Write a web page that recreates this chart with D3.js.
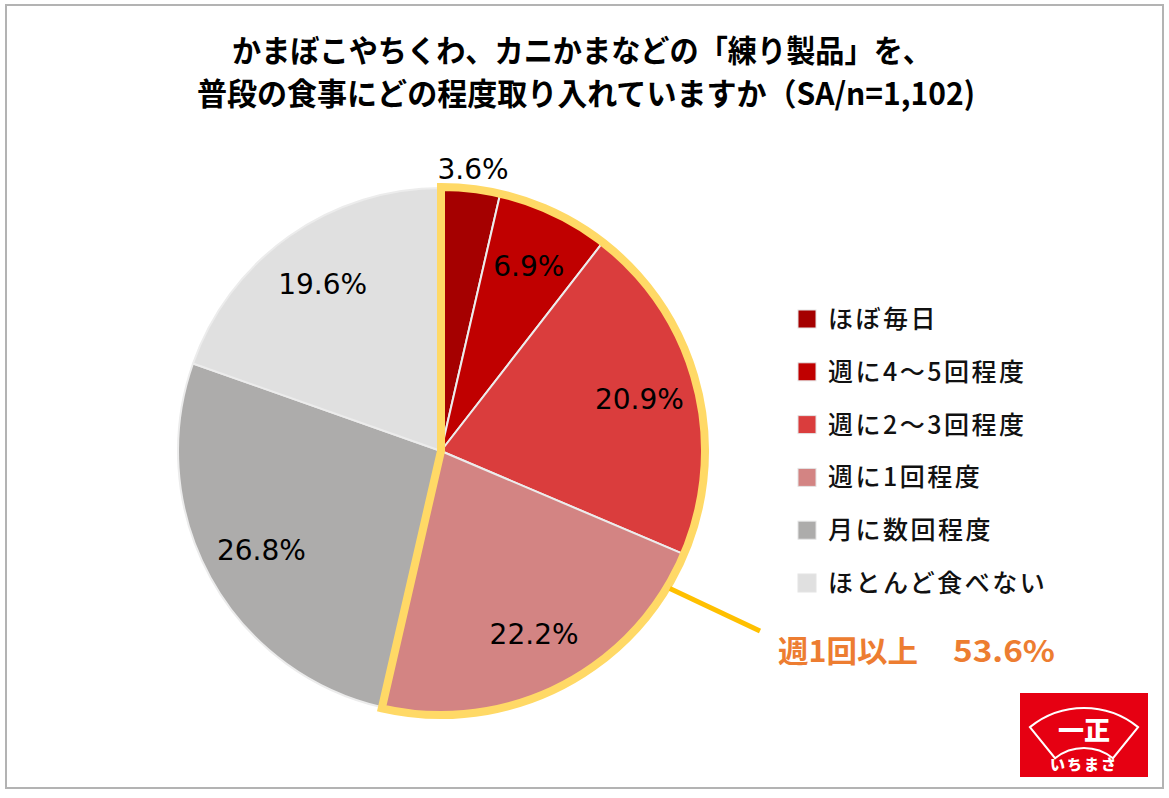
<!DOCTYPE html>
<html lang="ja">
<head>
<meta charset="utf-8">
<script src="https://cdn.jsdelivr.net/npm/d3@7"></script>
<style>
  html, body { margin: 0; padding: 0; background: #fff; }
  svg { display: block; }
</style>
</head>
<body>
<script>
// ---- data ----
const titleLines = ["かまぼこやちくわ、カニかまなどの「練り製品」を、", "普段の食事にどの程度取り入れていますか（SA/n=1,102)"];
const categories = ["ほぼ毎日", "週に4～5回程度", "週に2～3回程度", "週に1回程度", "月に数回程度", "ほとんど食べない"];
const values = [3.6, 6.9, 20.9, 22.2, 26.8, 19.6];
const sliceColors = ["#A50000", "#C00000", "#DA3D3D", "#D38483", "#ADACAB", "#E0E0E0"];
const highlightCount = 4;
const summaryLabel = "週1回以上";
const summaryValue = 53.6;
const logoText = "いちまさ";

// ---- layout ----
const W = 1169, H = 798;
const cx = 441, cy = 451, R = 263;

const svg = d3.select("body").append("svg").attr("width", W).attr("height", H);

// frame
svg.append("rect").attr("x", 6).attr("y", 5).attr("width", 1157).attr("height", 783)
  .attr("fill", "#fff").attr("stroke", "#b3b3b3").attr("stroke-width", 2);

// title
const titleX = [232, 197], titleY = [62, 105], titleLen = [700, 778];
svg.selectAll("text.title").data(titleLines).join("text")
  .attr("class", "title")
  .attr("x", (d, i) => titleX[i]).attr("y", (d, i) => titleY[i])
  .attr("textLength", (d, i) => titleLen[i])
  .attr("lengthAdjust", "spacingAndGlyphs")
  .attr("font-family", "'Noto Sans CJK JP', sans-serif")
  .attr("font-weight", 700).attr("font-size", 31).attr("fill", "#000")
  .text(d => d);

// pie
const pie = d3.pie().sort(null).value(d => d);
const arcs = pie(values);
const arc = d3.arc().innerRadius(0).outerRadius(R);
const g = svg.append("g").attr("transform", `translate(${cx},${cy})`);

g.selectAll("path.slice").data(arcs).join("path")
  .attr("class", "slice")
  .attr("d", arc)
  .attr("fill", (d, i) => sliceColors[i])
  .attr("stroke", "#ececec").attr("stroke-width", 2).attr("stroke-linejoin", "round");

// highlight outline
const hiEnd = arcs[highlightCount - 1].endAngle;
const hiArc = d3.arc().innerRadius(0).outerRadius(R + 1).startAngle(0).endAngle(hiEnd);
g.append("path").attr("d", hiArc())
  .attr("fill", "none").attr("stroke", "#FFD966").attr("stroke-width", 8)
  .attr("stroke-linejoin", "miter");

// labels
const labelArc = d3.arc().innerRadius(205).outerRadius(205);
const outerLabelArc = d3.arc().innerRadius(284).outerRadius(284);
g.selectAll("text.pct").data(arcs).join("text")
  .attr("class", "pct")
  .attr("transform", d => {
    const c = (d.data < 5 ? outerLabelArc : labelArc).centroid(d);
    return `translate(${c[0]},${c[1]})`;
  })
  .attr("text-anchor", "middle").attr("dy", "0.36em")
  .attr("font-family", "'DejaVu Sans', Verdana, sans-serif")
  .attr("font-size", 28).attr("fill", "#000")
  .text(d => d3.format(".1f")(d.data) + "%");

// callout line
const calloutAngle = 121 * Math.PI / 180;
const sx = cx + (R + 4) * Math.sin(calloutAngle), sy = cy - (R + 4) * Math.cos(calloutAngle);
svg.append("line").attr("x1", sx).attr("y1", sy).attr("x2", 760).attr("y2", 631)
  .attr("stroke", "#FFC000").attr("stroke-width", 5);

svg.append("text").attr("x", 778).attr("y", 662)
  .attr("textLength", 140).attr("lengthAdjust", "spacingAndGlyphs")
  .attr("font-family", "'Noto Sans CJK JP', sans-serif").attr("font-weight", 700)
  .attr("font-size", 30).attr("fill", "#ED7D31").text(summaryLabel);
svg.append("text").attr("x", 953).attr("y", 662)
  .attr("textLength", 102).attr("lengthAdjust", "spacingAndGlyphs")
  .attr("font-family", "'Noto Sans CJK JP', sans-serif").attr("font-weight", 700)
  .attr("font-size", 30).attr("fill", "#ED7D31").text(d3.format(".1f")(summaryValue) + "%");

// legend
const ly = d3.scalePoint().domain(categories).range([319, 583]);
const leg = svg.selectAll("g.leg").data(categories).join("g").attr("class", "leg")
  .attr("transform", d => `translate(798,${ly(d)})`);
leg.append("rect").attr("x", 0).attr("y", -9).attr("width", 18).attr("height", 18)
  .attr("fill", (d, i) => sliceColors[i]).attr("stroke", "#e4e4e4").attr("stroke-width", 1);
leg.append("text").attr("x", 30).attr("y", 0).attr("dy", "0.36em")
  .attr("font-family", "'Noto Sans CJK JP', sans-serif").attr("font-weight", 500)
  .attr("font-size", 25).attr("letter-spacing", 2.5).attr("fill", "#111")
  .text(d => d);

// logo
const logo = svg.append("g");
logo.append("rect").attr("x", 1020).attr("y", 693).attr("width", 128).attr("height", 84).attr("fill", "#E60012");
const fan = d3.arc().innerRadius(46).outerRadius(86).startAngle(-0.68).endAngle(0.68);
logo.append("path").attr("transform", "translate(1084,794)").attr("d", fan())
  .attr("fill", "none").attr("stroke", "#fff").attr("stroke-width", 2);
logo.append("text").attr("x", 1084).attr("y", 740).attr("text-anchor", "middle")
  .attr("font-family", "'Noto Sans CJK JP', sans-serif").attr("font-weight", 900)
  .attr("font-size", 26).attr("fill", "#fff").text("一正");
logo.append("text").attr("x", 1084).attr("y", 770).attr("text-anchor", "middle")
  .attr("font-family", "'Noto Sans CJK JP', sans-serif").attr("font-weight", 900)
  .attr("font-size", 15).attr("letter-spacing", 2).attr("fill", "#fff").text(logoText);
</script>
</body>
</html>
